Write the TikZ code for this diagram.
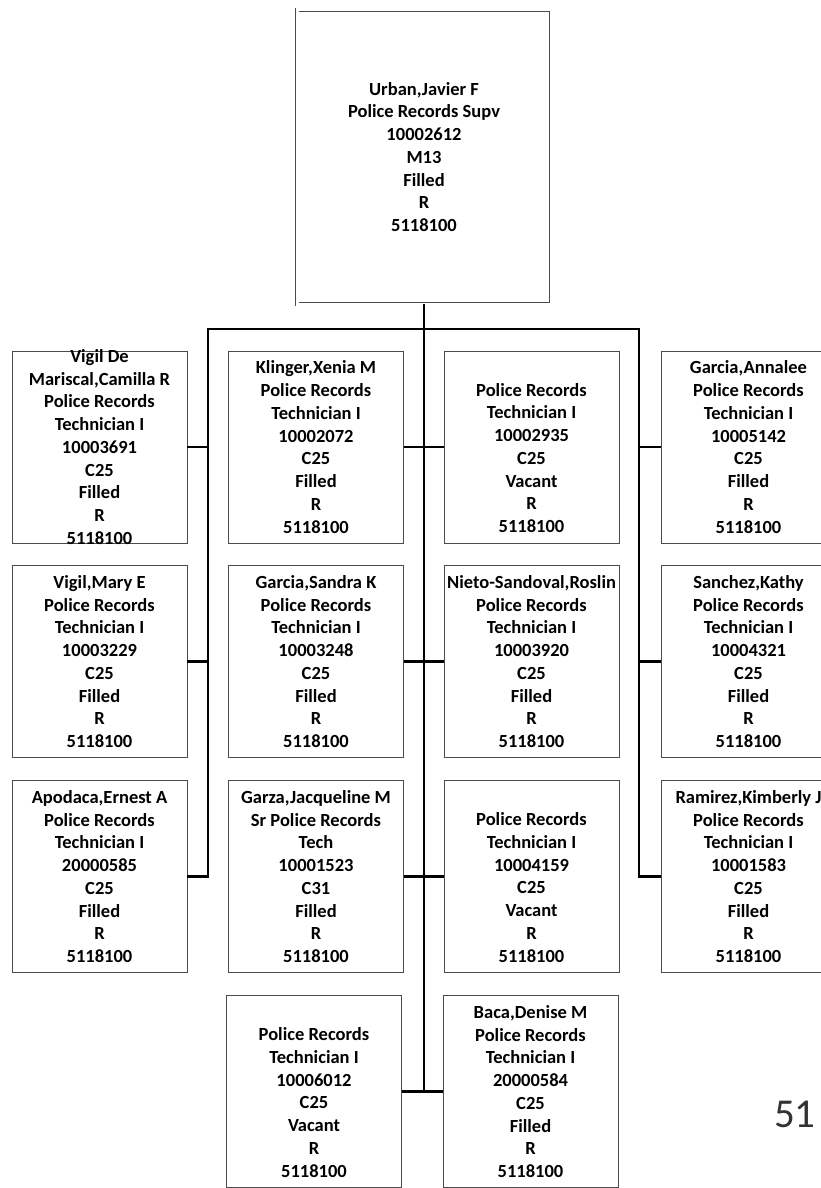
\documentclass[tikz,border=0pt]{standalone}
\usepackage{fontspec}
\setmainfont{Carlito}
\begin{document}
\begin{tikzpicture}[x=1pt, y=-1pt,
    box/.style={draw=black!70, line width=0.8pt, minimum width=175pt, minimum height=192pt, inner sep=0pt},
    txt/.style={font=\bfseries\fontsize{18.5}{22.75}\selectfont, align=center, inner sep=0pt},
    conn/.style={line width=2.6pt, line join=miter}]
        \useasboundingbox (0,0) rectangle (821,1188);
        \clip (0,0) rectangle (821,1188);

        % Supervisore
        \node[box, double, double distance=3pt, minimum width=254pt, minimum height=294pt,
              label={[txt]center:{Urban,Javier F\\Police Records Supv\\10002612\\M13\\Filled\\R\\5118100}}] (sup) at (424,157) {};

        % Colonna 1
        \node[box, label={[txt]center:{Vigil De\\Mariscal,Camilla R\\Police Records\\Technician I\\10003691\\C25\\Filled\\R\\5118100}}] (p11) at (99.5,447) {};
        \node[box, label={[txt]center:{Vigil,Mary E\\Police Records\\Technician I\\10003229\\C25\\Filled\\R\\5118100}}] (p12) at (99.5,661.5) {};
        \node[box, label={[txt]center:{Apodaca,Ernest A\\Police Records\\Technician I\\20000585\\C25\\Filled\\R\\5118100}}] (p13) at (99.5,876.5) {};

        % Colonna 2
        \node[box, label={[txt]center:{Klinger,Xenia M\\Police Records\\Technician I\\10002072\\C25\\Filled\\R\\5118100}}] (p21) at (316,447) {};
        \node[box, label={[txt]center:{Garcia,Sandra K\\Police Records\\Technician I\\10003248\\C25\\Filled\\R\\5118100}}] (p22) at (316,661.5) {};
        \node[box, label={[txt]center:{Garza,Jacqueline M\\Sr Police Records\\Tech\\10001523\\C31\\Filled\\R\\5118100}}] (p23) at (316,876.5) {};
        \node[box, label={[txt]center:{\phantom{X}\\Police Records\\Technician I\\10006012\\C25\\Vacant\\R\\5118100}}] (p24) at (314,1091.5) {};

        % Colonna 3
        \node[box, label={[txt]center:{\phantom{X}\\Police Records\\Technician I\\10002935\\C25\\Vacant\\R\\5118100}}] (p31) at (531.5,447) {};
        \node[box, label={[txt]center:{Nieto-Sandoval,Roslin\\Police Records\\Technician I\\10003920\\C25\\Filled\\R\\5118100}}] (p32) at (531.5,661.5) {};
        \node[box, label={[txt]center:{\phantom{X}\\Police Records\\Technician I\\10004159\\C25\\Vacant\\R\\5118100}}] (p33) at (531.5,876.5) {};
        \node[box, label={[txt]center:{Baca,Denise M\\Police Records\\Technician I\\20000584\\C25\\Filled\\R\\5118100}}] (p34) at (530.5,1091.5) {};

        % Colonna 4
        \node[box, label={[txt]center:{Garcia,Annalee\\Police Records\\Technician I\\10005142\\C25\\Filled\\R\\5118100}}] (p41) at (748.5,447) {};
        \node[box, label={[txt]center:{Sanchez,Kathy\\Police Records\\Technician I\\10004321\\C25\\Filled\\R\\5118100}}] (p42) at (748.5,661.5) {};
        \node[box, label={[txt]center:{Ramirez,Kimberly J\\Police Records\\Technician I\\10001583\\C25\\Filled\\R\\5118100}}] (p43) at (748.5,876.5) {};

        % Numero di pagina
        \node[anchor=base west, inner sep=0pt, text=black!80, font=\fontsize{41}{41}\selectfont] (pag) at (774,1127) {51};

        % Collegamenti
        \coordinate (barL) at (208,329);
        \coordinate (barR) at (639,329);
        \draw[conn] (sup.south) -- (sup.south |- p24.east);
        \draw[conn] (p13.east) -| (barL) -- (barR) |- (p43.west);
        \draw[conn] (p11.east) -- (p11.east -| barL);
        \draw[conn] (p12.east) -- (p12.east -| barL);
        \draw[conn] (p41.west) -- (p41.west -| barR);
        \draw[conn] (p42.west) -- (p42.west -| barR);
        \draw[conn] (p21.east) -- (p31.west);
        \draw[conn] (p22.east) -- (p32.west);
        \draw[conn] (p23.east) -- (p33.west);
        \draw[conn] (p24.east) -- (p34.west);
\end{tikzpicture}
\end{document}
